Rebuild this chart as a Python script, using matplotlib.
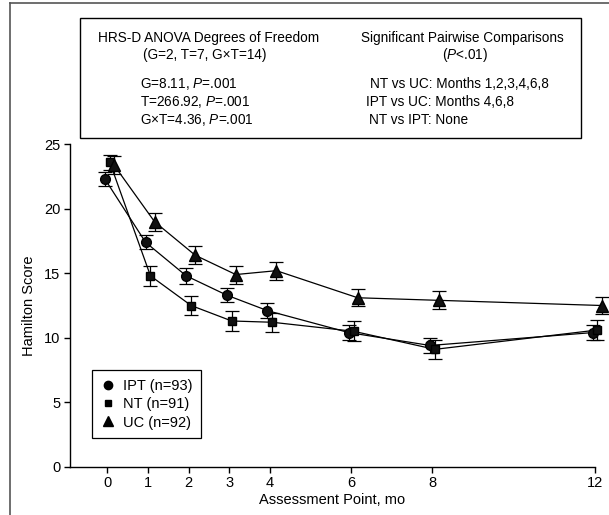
import matplotlib
matplotlib.use('Agg')
import matplotlib.pyplot as plt
from matplotlib.lines import Line2D
from matplotlib.patches import Rectangle

plt.rcParams['font.family'] = ['Liberation Sans', 'DejaVu Sans']
plt.rcParams['mathtext.fontset'] = 'custom'
plt.rcParams['mathtext.rm'] = 'Liberation Sans'
plt.rcParams['mathtext.it'] = 'Liberation Sans:italic'

months = [0, 1, 2, 3, 4, 6, 8, 12]

ipt = [22.3, 17.4, 14.8, 13.3, 12.1, 10.4, 9.4, 10.4]
ipt_err = [0.55, 0.55, 0.6, 0.55, 0.6, 0.6, 0.55, 0.6]
nt = [23.6, 14.8, 12.5, 11.3, 11.2, 10.5, 9.1, 10.6]
nt_err = [0.6, 0.8, 0.75, 0.75, 0.75, 0.78, 0.74, 0.78]
uc = [23.4, 19.0, 16.4, 14.9, 15.2, 13.1, 12.9, 12.5]
uc_err = [0.7, 0.7, 0.7, 0.7, 0.7, 0.67, 0.7, 0.67]

labels = ['IPT (n=93)', 'NT (n=91)', 'UC (n=92)']

W, H = 609, 515
fig = plt.figure(figsize=(W / 100, H / 100), dpi=100)


def fx(px):
    return px / W


def fy(py):
    return 1 - py / H


ax = fig.add_axes([fx(70), fy(466.7), fx(595) - fx(70), fy(144.3) - fy(466.7)])

series = [
    (ipt, ipt_err, 'o', 7, -0.06),
    (nt, nt_err, 's', 6, 0.06),
    (uc, uc_err, '^', 8, 0.16),
]
handles = []
for (vals, errs, mk, ms, dx), lab in zip(series, labels):
    xs = [m + dx for m in months]
    eb = ax.errorbar(xs, vals, yerr=errs, fmt='-', color='black', lw=0.9,
                     elinewidth=0.9, capsize=5, capthick=0.9, zorder=2)
    eb.lines[0].set_clip_on(False)
    for art in list(eb.lines[1]) + list(eb.lines[2]):
        art.set_clip_on(False)
    ax.plot(xs, vals, linestyle='none', marker=mk, ms=ms, color='#111111',
            markeredgecolor='black', zorder=3, clip_on=False)
    handles.append(Line2D([], [], linestyle='none', marker=mk, ms=ms - 1,
                          color='black', label=lab))

ax.set_xlim(-0.92, 12)
ax.set_ylim(0, 25)
ax.set_xticks(months)
ax.set_yticks([0, 5, 10, 15, 20, 25])
ax.spines['top'].set_visible(False)
ax.spines['right'].set_visible(False)
ax.spines['left'].set_linewidth(1.0)
ax.spines['bottom'].set_linewidth(1.0)
ax.tick_params(direction='out', length=4, width=1.0, labelsize=10.5, pad=3)
ax.set_xlabel('Assessment Point, mo', fontsize=10.5, labelpad=2)
ax.set_ylabel('Hamilton Score', fontsize=10.5, labelpad=6)

leg = ax.legend(handles=handles, loc='upper left',
                bbox_to_anchor=(fx(92), fy(370)), bbox_transform=fig.transFigure,
                borderaxespad=0, fancybox=False, edgecolor='black',
                framealpha=1, fontsize=10.5, handlelength=1.0,
                handletextpad=0.5, labelspacing=0.3, borderpad=0.6)
leg.get_frame().set_linewidth(0.9)

# outer frame lines (top and left)
fig.add_artist(Line2D([fx(10), 1], [fy(3), fy(3)], color='#555555', lw=1.2))
fig.add_artist(Line2D([fx(10), fx(10)], [0, fy(3)], color='#555555', lw=1.2))

# annotation box
fig.add_artist(Rectangle((fx(80), fy(138)), fx(581) - fx(80), fy(18.3) - fy(138),
                         fill=False, edgecolor='black', lw=1.0,
                         transform=fig.transFigure))

fs = 9.8
fig.text(fx(209), fy(37.7), 'HRS-D ANOVA Degrees of Freedom', ha='center', va='center', fontsize=fs)
fig.text(fx(205), fy(55.5), '(G=2, T=7, G×T=14)', ha='center', va='center', fontsize=fs)
fig.text(fx(140), fy(84.3), 'G=8.11, $P$=.001', ha='left', va='center', fontsize=fs)
fig.text(fx(140), fy(102.3), 'T=266.92, $P$=.001', ha='left', va='center', fontsize=fs)
fig.text(fx(140), fy(120.3), 'G×T=4.36, $P$=.001', ha='left', va='center', fontsize=fs)

fig.text(fx(462), fy(37.7), 'Significant Pairwise Comparisons', ha='center', va='center', fontsize=fs)
fig.text(fx(465), fy(55.5), '($P$<.01)', ha='center', va='center', fontsize=fs)
fig.text(fx(370), fy(84.3), 'NT vs UC: Months 1,2,3,4,6,8', ha='left', va='center', fontsize=fs)
fig.text(fx(366), fy(102.3), 'IPT vs UC: Months 4,6,8', ha='left', va='center', fontsize=fs)
fig.text(fx(369), fy(120.3), 'NT vs IPT: None', ha='left', va='center', fontsize=fs)

fig.savefig('out.png', dpi=100)
